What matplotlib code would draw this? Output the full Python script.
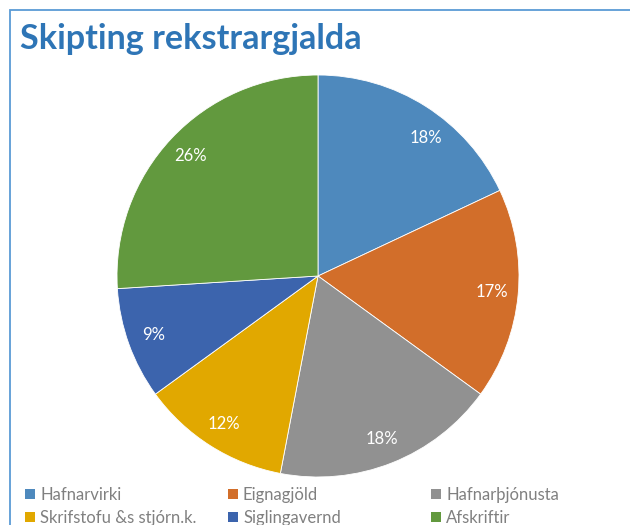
import numpy as np
import matplotlib.pyplot as plt
from matplotlib.patches import Rectangle, Patch

categories = ['Hafnarvirki', 'Eignagjöld', 'Hafnarþjónusta',
              'Skrifstofu &s stjórn.k.', 'Siglingavernd', 'Afskriftir']
shares = [18, 17, 18, 12, 9, 26]
colors = ['#4E89BD', '#D26E2A', '#919191', '#E1A800', '#3C64AD', '#62993E']

plt.rcParams['font.family'] = ['Lato', 'DejaVu Sans']

fig = plt.figure(figsize=(6.3, 5.25), dpi=100)
W, H = 630, 525

# frame of the chart area (cropped at right and bottom)
fig.patches.append(Rectangle((10 / W, -0.1), 1.2, 1 - 10 / H + 0.1,
                             transform=fig.transFigure, fill=False,
                             edgecolor='#5B9BD5', linewidth=1.3))

fig.text(20 / W, 1 - 39 / H, 'Skipting rekstrargjalda', fontsize=24.6,
         fontweight='bold', color='#2E75B6', va='center', ha='left')

cx, cy, r = 318, 276, 201
ax = fig.add_axes([(cx - r) / W, (H - cy - r) / H, 2 * r / W, 2 * r / H])
wedges, texts, autotexts = ax.pie(
    shares, colors=colors, startangle=90, counterclock=False,
    autopct='%1.0f%%', pctdistance=0.87,
    wedgeprops=dict(edgecolor='white', linewidth=0.6),
    textprops=dict(color='white', fontsize=12))
ax.set_xlim(-1, 1)
ax.set_ylim(-1, 1)

# first label sits a bit further clockwise in the original
a = np.deg2rad(90 - shares[0] / 2 * 3.6 - 5.5)
autotexts[0].set_position((0.87 * np.cos(a), 0.87 * np.sin(a)))

# legend: three columns, filled row by row
col_x = [25, 228, 431]
for j in range(3):
    idx = [j, j + 3]
    fig.legend([Patch(facecolor=colors[i], edgecolor='none') for i in idx],
               [categories[i] for i in idx], loc='upper left',
               bbox_to_anchor=(col_x[j] / W, 1 - 487 / H), frameon=False,
               fontsize=12, labelcolor='#808080', handlelength=0.6,
               handleheight=0.6, handletextpad=0.3,
               labelspacing=0.42, borderaxespad=0, borderpad=0)

fig.savefig('out.png', dpi=100)
